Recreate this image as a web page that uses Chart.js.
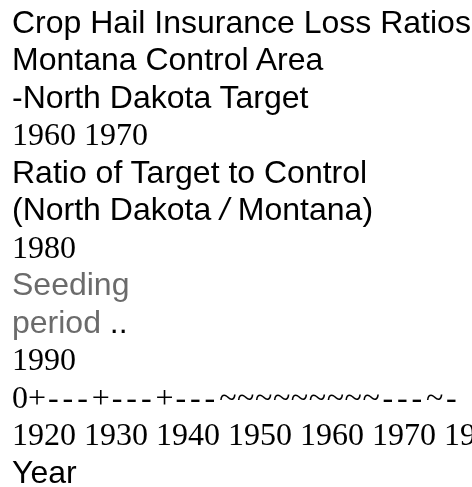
<!DOCTYPE html>
<html>
<head>
<meta charset="utf-8">
<script src="https://cdn.jsdelivr.net/npm/chart.js@4"></script>
<style>
  html, body { margin: 0; padding: 0; background: #ffffff; width: 472px; height: 487px; overflow: hidden; }
  #wrap { position: relative; width: 472px; height: 487px; }
  #chart { position: absolute; left: 0; top: 0; }
  #lines { position: absolute; left: 12px; top: 3.5px; white-space: pre; }
  .ln { height: 37.5px; line-height: 37.5px; font-size: 32px; color: #000; }
  .sans { font-family: "Liberation Sans", Arial, sans-serif; }
  .serif { font-family: "Liberation Serif", "Times New Roman", serif; }
  .gray { color: #6b6b6b; }
  .dash { letter-spacing: 3.9px; padding-left: 2px; }
  .tilde { letter-spacing: 0.6px; }
  .it { font-style: italic; }
</style>
</head>
<body>
<div id="wrap">
  <canvas id="chart" width="472" height="487"></canvas>
  <div id="lines"></div>
</div>
<script>
// Text content
const titleLines = ["Crop Hail Insurance Loss Ratios", "Montana Control Area", "-North Dakota Target"];
const upperYearTicks = ["1960", "1970"];
const ratioLabel = ["Ratio of Target to Control", "(North Dakota ", "/", " Montana)"];
const midYearTicks = ["1980"];
const seedingLabel = ["Seeding", "period", " .."];
const lowYearTicks = ["1990"];
const axisLine = "0+---+---+---~~~~~~~~~---~-";
const xTickLabels = ["1920", "1930", "1940", "1950", "1960", "1970", "1980"];
const xAxisTitle = "Year";

// Chart.js instance (the reference shows no plotted marks, only text)
new Chart(document.getElementById('chart'), {
  type: 'line',
  data: { labels: xTickLabels, datasets: [] },
  options: {
    responsive: false,
    animation: false,
    plugins: { legend: { display: false }, title: { display: false }, tooltip: { enabled: false } },
    scales: { x: { display: false }, y: { display: false } }
  }
});

const wrap = document.getElementById('lines');
function addLine(cls, parts) {
  const d = document.createElement('div');
  d.className = 'ln ' + cls;
  parts.forEach(p => {
    const s = document.createElement('span');
    if (p.cls) s.className = p.cls;
    s.textContent = p.t;
    d.appendChild(s);
  });
  wrap.appendChild(d);
}
// split the axis line into runs so dashes and tildes can be spaced like the reference
function axisParts(str) {
  const runs = str.match(/(-+|~+|[^-~]+)/g) || [];
  return runs.map(r => ({ t: r, cls: r[0] === '-' ? 'dash' : (r[0] === '~' ? 'tilde' : '') }));
}
addLine('sans', [{ t: titleLines[0] }]);
addLine('sans', [{ t: titleLines[1] }]);
addLine('sans', [{ t: titleLines[2] }]);
addLine('serif', [{ t: upperYearTicks.join(' ') }]);
addLine('sans', [{ t: ratioLabel[0] }]);
addLine('sans', [{ t: ratioLabel[1] }, { t: ratioLabel[2], cls: 'it' }, { t: ratioLabel[3] }]);
addLine('serif', [{ t: midYearTicks.join(' ') }]);
addLine('sans gray', [{ t: seedingLabel[0] }]);
addLine('sans', [{ t: seedingLabel[1], cls: 'gray' }, { t: seedingLabel[2] }]);
addLine('serif', [{ t: lowYearTicks.join(' ') }]);
addLine('serif', axisParts(axisLine));
addLine('serif', [{ t: xTickLabels.join(' ') }]);
addLine('sans', [{ t: xAxisTitle }]);
</script>
</body>
</html>
